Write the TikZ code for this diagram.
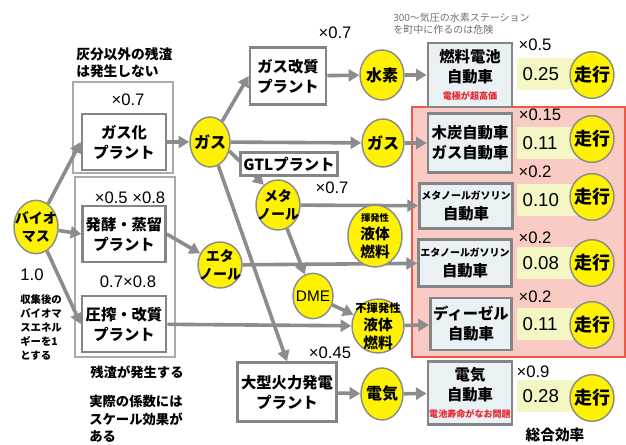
\documentclass[tikz,border=0pt]{standalone}
\usepackage{fontspec}
\setmainfont{Noto Sans CJK JP}
\newfontfamily\numfont{Liberation Sans}
\usetikzlibrary{arrows.meta,positioning,shapes.geometric}
\pgfdeclarelayer{back}
\pgfdeclarelayer{background}
\pgfsetlayers{back,background,main}
\definecolor{arrgray}{HTML}{8C8C8C}
\definecolor{boxgray}{HTML}{858585}
\definecolor{ballyellow}{HTML}{FFF200}
\definecolor{carfill}{HTML}{EAF1F5}
\definecolor{valfill}{HTML}{F4F6C4}
\definecolor{pinkfill}{HTML}{F9CBC4}
\definecolor{pinkline}{HTML}{EC5A45}
\definecolor{notered}{HTML}{E8242C}
\definecolor{notegray}{HTML}{6E6E6E}
\newcommand{\redtag}[1]{{\color{notered}\fontsize{6.8}{8}\selectfont #1}}
\newcommand{\smallkana}[1]{{\fontsize{7.5}{9}\selectfont #1}}
\tikzset{
	plant/.style={draw=boxgray, line width=2pt, fill=white, align=center, inner sep=0pt,
		font=\fontsize{11.5}{15}\selectfont\bfseries},
	car/.style={plant, fill=carfill},
	ball/.style={ellipse, draw=arrgray, line width=1.1pt, fill=ballyellow, inner sep=0pt},
	balltext/.style={align=center, inner sep=0pt, font=\fontsize{12}{14}\selectfont\bfseries},
	val/.style={fill=valfill, text width=38pt, inner xsep=4pt, inner ysep=0pt, minimum height=24pt,
		align=left, font=\numfont\fontsize{14}{16}\selectfont},
	coef/.style={inner sep=0pt, font=\numfont\fontsize{12.5}{14}\selectfont},
	note/.style={align=left, inner sep=0pt, font=\fontsize{10}{13}\selectfont\bfseries},
}
\begin{document}
\begin{tikzpicture}[x=0.75pt,y=-0.75pt]
	\useasboundingbox (0,0) rectangle (626,445);

	% frames
	\begin{pgfonlayer}{back}
		\draw[draw=pinkline, fill=pinkfill, line width=1.2pt] (412,107) rectangle (625,357);
		\draw[draw=boxgray!70, line width=0.8pt] (73,82) rectangle (173,173);
		\draw[draw=boxgray!70, line width=0.8pt] (75,177) rectangle (175,357);
	\end{pgfonlayer}

	\begin{scope}[every node/.style={plant}]
		\node[minimum width=63pt, minimum height=42pt] (gasif) at (124,142) {ガス化\\プラント};
		\node[minimum width=62pt, minimum height=42pt] (ferment) at (124,234) {発酵・蒸留\\プラント};
		\node[minimum width=63pt, minimum height=42pt] (press) at (124,324) {圧搾・改質\\プラント};
		\node[minimum width=57pt, minimum height=43pt] (reform) at (288,76) {ガス改質\\プラント};
		\node[minimum width=73pt, minimum height=17pt] (gtl) at (289,164) {GTLプラント};
		\node[minimum width=74pt, minimum height=44pt] (thermal) at (287,392) {大型火力発電\\プラント};
	\end{scope}

	\begin{scope}[every node/.style={car}]
		\node[minimum width=63pt, minimum height=48pt] (fcv) at (470,75) {燃料電池\\自動車\\[-2pt]\redtag{電極が超高価}};
		\node[minimum width=63pt, minimum height=44pt] (charcoal) at (470,143) {木炭自動車\\ガス自動車};
		\node[minimum width=70pt, minimum height=34pt] (methcar) at (466,206) {\smallkana{メタノールガソリン}\\自動車};
		\node[minimum width=70pt, minimum height=35pt] (ethcar) at (465,263) {\smallkana{エタノールガソリン}\\自動車};
		\node[minimum width=61pt, minimum height=39pt] (diesel) at (471,324) {ディーゼル\\自動車};
		\node[minimum width=63pt, minimum height=47pt] (ev) at (470,393) {電気\\自動車\\[-2pt]\redtag{電池寿命がなお問題}};
	\end{scope}

	% yellow balls
	\node[ball, minimum width=33pt, minimum height=40pt,
		label={[balltext, font=\fontsize{10.5}{13}\selectfont\bfseries]center:バイオ\\マス}] (bio) at (36,227) {};
	\node[ball, minimum width=30pt, minimum height=37.5pt, label={[balltext]center:ガス}] (gas) at (210,142) {};
	\node[ball, minimum width=33pt, minimum height=37.5pt, label={[balltext]center:水素}] (h2) at (382,75) {};
	\node[ball, minimum width=31.5pt, minimum height=36pt, label={[balltext]center:ガス}] (gas2) at (383,143) {};
	\node[ball, minimum width=33pt, minimum height=37.5pt,
		label={[balltext, font=\fontsize{10.5}{13}\selectfont\bfseries]center:メタ\\ノール}] (meth) at (278,205) {};
	\node[ball, minimum width=33pt, minimum height=34.5pt,
		label={[balltext, font=\fontsize{10.5}{13}\selectfont\bfseries]center:エタ\\ノール}] (ethan) at (220,265) {};
	\node[ball, minimum width=40.5pt, minimum height=46.5pt,
		label={[balltext, font=\fontsize{11}{13.5}\selectfont\bfseries]center:{\fontsize{7}{8}\selectfont 揮発性}\\液体\\燃料}] (volat) at (375,236) {};
	\node[ball, minimum width=30pt, minimum height=34pt,
		label={[balltext, font=\numfont\fontsize{11.5}{13}\selectfont]center:DME}] (dme) at (313,296) {};
	\node[ball, minimum width=39pt, minimum height=40.5pt,
		label={[balltext, font=\fontsize{11}{13.5}\selectfont\bfseries]center:{\fontsize{8.5}{9}\selectfont 不揮発性}\\液体\\燃料}] (nonvol) at (378,326) {};
	\node[ball, minimum width=31.5pt, minimum height=39pt, label={[balltext]center:電気}] (elec) at (382,394) {};

	% values and runs
	\node[val] (val1) at (548,74) {0.25};
	\node[val] (val2) at (548,143) {0.11};
	\node[val] (val3) at (548,200) {0.10};
	\node[val] (val4) at (548,263) {0.08};
	\node[val] (val5) at (548,324) {0.11};
	\node[val] (val6) at (548,396) {0.28};
	\foreach \y [count=\i] in {75,139,197,263,325,398}
		\node[ball, minimum width=33pt, minimum height=35pt,
			label={[balltext, font=\fontsize{13.5}{15}\selectfont\bfseries]center:走行}] (run\i) at (592,\y) {};

	% factors
	\node[coef] (fgasif) at (128,100) {×0.7};
	\node[coef] (fferment) at (130,198) {×0.5 ×0.8};
	\node[coef] (fpress) at (128,282) {0.7×0.8};
	\node[coef] (freform) at (335,33) {×0.7};
	\node[coef] (fgtl) at (332,188) {×0.7};
	\node[coef] (fthermal) at (330,353) {×0.45};
	\node[coef] (ffcv) at (535,45) {×0.5};
	\node[coef] (fcharcoal) at (540,115) {×0.15};
	\node[coef] (fmethcar) at (535,172) {×0.2};
	\node[coef] (fethcar) at (535,238) {×0.2};
	\node[coef] (fdiesel) at (535,297) {×0.2};
	\node[coef] (fev) at (533,372) {×0.9};
	\node[coef] (one) at (32,275) {1.0};

	% notes
	\node[note, anchor=west, font=\fontsize{10.3}{12.75}\selectfont\bfseries] (ashnote) at (76,63) {灰分以外の残渣\\は発生しない};
	\node[note, anchor=north west, text=notegray, font=\fontsize{7.5}{9}\selectfont] (h2note) at (393,13) {300〜気圧の水素ステーション\\を町中に作るのは危険};
	\node[note, anchor=north west, font=\fontsize{7.8}{10.5}\selectfont\bfseries] (collect) at (20,294) {収集後の\\バイオマ\\スエネル\\ギーを1\\とする};
	\node[note] (residue) at (137,372) {残渣が発生する};
	\node[note, anchor=north west] (scale) at (89,395) {実際の係数には\\スケール効果が\\ある};
	\node[note, font=\fontsize{11}{13}\selectfont\bfseries] (total) at (555,435) {総合効率};

	% flows
	\begin{pgfonlayer}{background}
	\begin{scope}[>={Triangle[length=8pt,width=9pt]},
		every edge/.style={draw=arrgray, line width=2.7pt, ->}]
		\path (bio) edge (gasif.west);
		\path (bio) edge (ferment.west);
		\path (bio) edge (press.west);
		\path (gasif) edge (gas);
		\path (gas) edge (reform.west);
		\path (reform) edge (h2);
		\path (h2) edge (fcv);
		\path (gas) edge (gas2);
		\path (gas2) edge (charcoal);
		\path (gas.-25) edge (meth.125);
		\path (meth) edge (methcar);
		\path (ferment.east) edge (ethan);
		\path (ethan) edge (ethcar);
		\path (meth) edge (dme);
		\path (dme) edge (nonvol);
		\path (press) edge (nonvol);
		\path (nonvol) edge (diesel);
		\path (gas) edge (thermal.north);
		\path (thermal) edge (elec);
		\path (elec) edge (ev);
	\end{scope}
	\end{pgfonlayer}
\end{tikzpicture}
\end{document}
